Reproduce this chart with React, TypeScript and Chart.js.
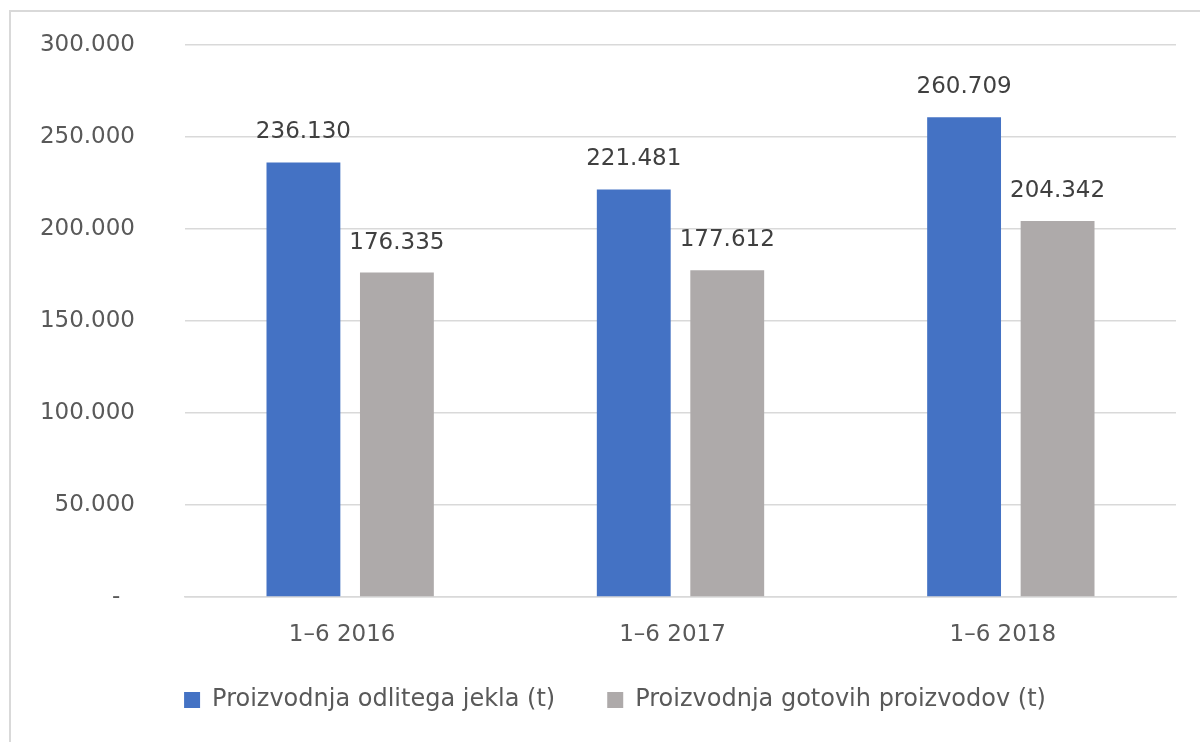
import React, { useEffect, useRef } from 'react';
import { Chart, registerables } from 'chart.js';
Chart.register(...registerables);

const categories = ['1–6 2016', '1–6 2017', '1–6 2018'];
const seriesNames = ['Proizvodnja odlitega jekla (t)', 'Proizvodnja gotovih proizvodov (t)'];
const castSteel = [236130, 221481, 260709];
const finishedProducts = [176335, 177612, 204342];
const yTicks = [0, 50000, 100000, 150000, 200000, 250000, 300000];

const FONT = '"DejaVu Sans", sans-serif';
const fmt = (v: number) => v.toString().replace(/\B(?=(\d{3})+(?!\d))/g, '.');

const dataLabels = {
  id: 'dataLabels',
  afterDatasetsDraw(chart: any) {
    const { ctx } = chart;
    ctx.save();
    ctx.font = `23px ${FONT}`;
    ctx.fillStyle = '#404040';
    ctx.textAlign = 'center';
    ctx.textBaseline = 'middle';
    chart.data.datasets.forEach((ds: any, i: number) => {
      chart.getDatasetMeta(i).data.forEach((bar: any, j: number) => {
        ctx.fillText(fmt(ds.data[j]), bar.x, bar.y - 30);
      });
    });
    ctx.restore();
  },
};

// move the legend into place (it sits over the x-axis box)
const legendShift = {
  id: 'legendShift',
  afterLayout(chart: any) {
    const lg = chart.legend;
    if (!lg) return;
    const dy = -20;
    const dx = 14;
    lg.top += dy;
    lg.bottom += dy;
    lg.left += dx;
    lg.right += dx;
  },
};

export default function App() {
  const ref = useRef<HTMLCanvasElement>(null);
  useEffect(() => {
    document.body.style.margin = '0';
    const chart = new Chart(ref.current!, {
      type: 'bar',
      data: {
        labels: categories,
        datasets: [
          { label: seriesNames[0], data: castSteel, backgroundColor: '#4472C4', borderWidth: 0 },
          { label: seriesNames[1], data: finishedProducts, backgroundColor: '#AEAAAA', borderWidth: 0 },
        ],
      },
      options: {
        responsive: false,
        animation: false,
        datasets: { bar: { categoryPercentage: 0.566, barPercentage: 0.79 } },
        layout: { padding: { left: 26, right: 24, top: 45, bottom: 0 } },
        plugins: {
          tooltip: { enabled: false },
          legend: {
            position: 'bottom',
            labels: {
              boxWidth: 16,
              boxHeight: 16,
              padding: 52,
              color: '#595959',
              font: { family: FONT, size: 24 },
            },
          },
        },
        scales: {
          x: {
            grid: { display: false, drawTicks: false },
            border: { display: true, color: '#D9D9D9', width: 1.5 },
            ticks: { color: '#595959', font: { family: FONT, size: 23 }, padding: 24, labelOffset: -8 },
            afterFit: (s: any) => { s.height = 59; },
          },
          y: {
            min: 0,
            max: 300000,
            grid: { color: '#D9D9D9', lineWidth: 1.5, drawTicks: false },
            border: { display: false },
            afterBuildTicks: (s: any) => { s.ticks = yTicks.map((v) => ({ value: v })); },
            ticks: {
              color: '#595959',
              font: { family: FONT, size: 23 },
              padding: 50,
              callback: (v: any) => (Number(v) === 0 ? '-  ' : fmt(Number(v))),
            },
            afterFit: (s: any) => {
              s.width = 159;
              s.paddingTop = 14;
              s.paddingBottom = 14;
            },
          },
        },
      },
      plugins: [dataLabels, legendShift],
    });
    return () => chart.destroy();
  }, []);
  return (
    <div style={{ position: 'fixed', left: 0, top: 0, width: 1200, height: 742, background: '#fff', overflow: 'hidden' }}>
      <div style={{ position: 'absolute', left: 9, top: 10, width: 1300, height: 900, borderLeft: '2px solid #D9D9D9', borderTop: '2px solid #D9D9D9' }} />
      <canvas ref={ref} width={1200} height={742} style={{ position: 'absolute', left: 0, top: 0 }} />
    </div>
  );
}
